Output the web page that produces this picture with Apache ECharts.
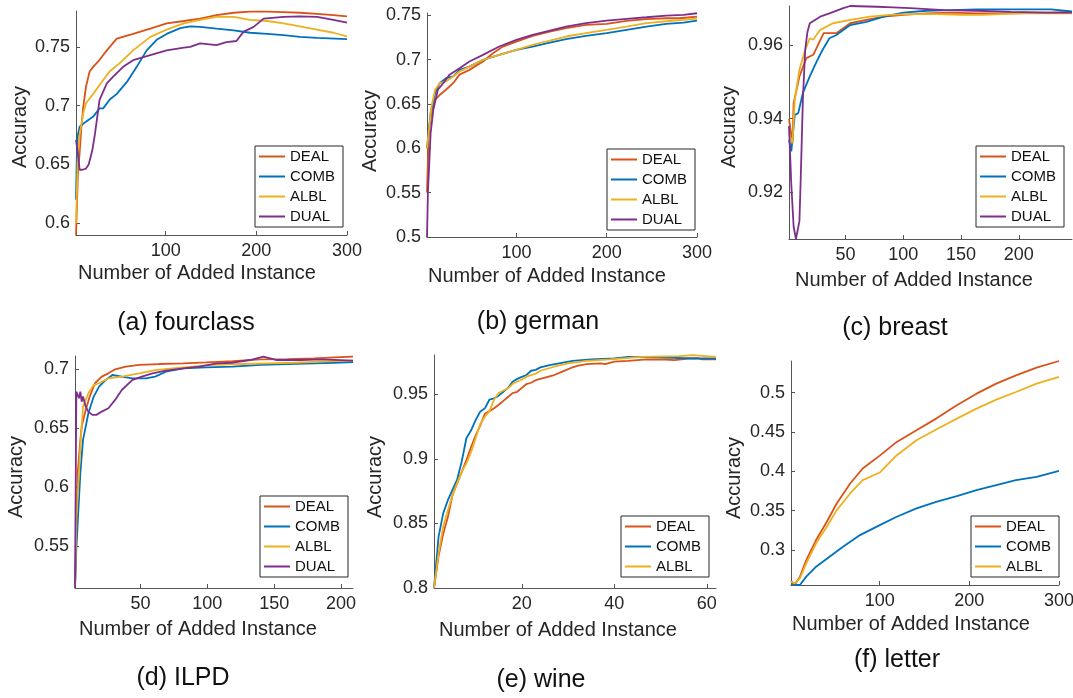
<!DOCTYPE html>
<html>
<head>
<meta charset="utf-8">
<script src="https://cdn.jsdelivr.net/npm/echarts@6/dist/echarts.min.js"></script>
<style>
  html, body { margin: 0; padding: 0; background: #fff; }
  #chart { width: 1073px; height: 698px; }
</style>
</head>
<body>
<div id="chart"></div>
<script>
// method names and colours (MATLAB default order)
const methods = ['DEAL', 'COMB', 'ALBL', 'DUAL'];
const colors = { DEAL: '#D95319', COMB: '#0072BD', ALBL: '#EDB120', DUAL: '#7E2F8E' };

// (a) fourclass
const fourclassDEAL = [[1,0.59],[3,0.64],[5,0.66],[7,0.682],[9,0.699],[12,0.716],[16,0.729],[20,0.733],[27,0.739],[35,0.747],[46,0.757],[64,0.761],[83,0.7655],[101,0.770],[120,0.772],[138,0.774],[156,0.777],[175,0.779],[193,0.780],[212,0.780],[230,0.7795],[248,0.779],[267,0.778],[285,0.777],[300,0.776]];
const fourclassCOMB = [[1,0.62],[2,0.66],[3,0.675],[5,0.682],[12,0.6864],[20,0.6907],[27,0.6977],[31,0.6977],[38,0.705],[46,0.710],[57,0.720],[68,0.733],[79,0.747],[90,0.756],[101,0.761],[116,0.766],[127,0.7675],[138,0.767],[156,0.7655],[175,0.764],[193,0.762],[212,0.761],[230,0.760],[248,0.7585],[267,0.7576],[300,0.7565]];
const fourclassALBL = [[1,0.6],[3,0.655],[5,0.675],[9,0.6935],[12,0.702],[20,0.710],[27,0.7175],[38,0.729],[49,0.736],[64,0.747],[83,0.7585],[101,0.7647],[120,0.770],[138,0.773],[156,0.7755],[175,0.7755],[193,0.773],[212,0.772],[230,0.770],[248,0.7675],[267,0.7647],[285,0.762],[300,0.759]];
const fourclassDUAL = [[1,0.671],[3,0.66],[5,0.6455],[8,0.6455],[12,0.6465],[15,0.650],[19,0.662],[22,0.6765],[27,0.705],[35,0.719],[42,0.7246],[53,0.733],[64,0.7387],[83,0.743],[101,0.747],[120,0.7494],[127,0.750],[138,0.753],[156,0.7514],[167,0.754],[178,0.755],[186,0.763],[197,0.767],[208,0.774],[230,0.7755],[248,0.776],[267,0.7755],[285,0.773],[300,0.7706]];
const fourclassXTicks = [100, 200, 300];
const fourclassYTicks = [0.6, 0.65, 0.7, 0.75];

// (b) german
const germanDEAL = [[1,0.55],[3,0.62],[6,0.64],[10,0.655],[15,0.66],[22,0.666],[30,0.6734],[37,0.683],[48,0.6884],[63,0.6978],[74,0.7072],[85,0.7147],[100,0.7203],[118,0.7267],[137,0.7316],[155,0.7354],[177,0.7391],[200,0.7402],[222,0.7436],[244,0.7455],[266,0.7466],[281,0.7466],[300,0.7485]];
const germanCOMB = [[1,0.6],[5,0.64],[10,0.662],[15,0.6734],[22,0.679],[30,0.681],[37,0.6884],[48,0.692],[63,0.6997],[81,0.7053],[100,0.711],[118,0.7147],[137,0.7192],[155,0.723],[177,0.7267],[200,0.7297],[222,0.7335],[244,0.7372],[266,0.7402],[285,0.7417],[300,0.744]];
const germanALBL = [[1,0.6],[6,0.6472],[10,0.666],[15,0.6734],[22,0.6753],[30,0.681],[37,0.6866],[48,0.692],[63,0.6997],[81,0.7053],[100,0.711],[118,0.7166],[137,0.7215],[155,0.726],[177,0.7297],[200,0.7335],[222,0.7372],[244,0.741],[266,0.7432],[285,0.7447],[300,0.7462]];
const germanDUAL = [[1,0.5],[2,0.55],[5,0.617],[8,0.6433],[13,0.666],[19,0.6734],[26,0.683],[37,0.6903],[48,0.6978],[63,0.7053],[81,0.7147],[100,0.7222],[118,0.7279],[137,0.7327],[155,0.7372],[177,0.741],[200,0.744],[222,0.7459],[244,0.7477],[266,0.7496],[285,0.7504],[300,0.7522]];
const germanXTicks = [100, 200, 300];
const germanYTicks = [0.5, 0.55, 0.6, 0.65, 0.7, 0.75];

// (c) breast
const breastDEAL = [[1,0.94],[4,0.9333],[5,0.9442],[10,0.9515],[16,0.9565],[22,0.9574],[31,0.9633],[42,0.9633],[54,0.966],[68,0.9669],[83,0.9678],[100,0.9683],[120,0.9687],[141,0.9689],[164,0.9687],[184,0.9687],[207,0.9689],[228,0.9689],[246,0.9691]];
const breastCOMB = [[1,0.9342],[3,0.9311],[6,0.941],[9,0.9415],[13,0.947],[19,0.9515],[25,0.9556],[30,0.9587],[36,0.9619],[42,0.9628],[54,0.9655],[68,0.9664],[83,0.9678],[100,0.9689],[120,0.9694],[141,0.9696],[164,0.9698],[184,0.9698],[207,0.9698],[228,0.9698],[246,0.9692]];
const breastALBL = [[1,0.936],[4,0.9333],[6,0.9451],[10,0.9533],[15,0.9587],[19,0.9619],[22,0.9615],[28,0.9642],[39,0.966],[54,0.9669],[71,0.9678],[88,0.9683],[106,0.9685],[129,0.9685],[149,0.9683],[170,0.9683],[184,0.9685],[207,0.9687],[228,0.9687],[246,0.9687]];
const breastDUAL = [[1,0.938],[3,0.922],[5,0.9106],[7,0.9072],[8,0.9072],[10,0.912],[11,0.922],[13,0.9451],[15,0.9587],[17,0.9637],[19,0.966],[28,0.9678],[36,0.9687],[48,0.9701],[54,0.9707],[77,0.9705],[91,0.9703],[106,0.9701],[135,0.9696],[164,0.9694],[193,0.9691],[222,0.9689],[246,0.9689]];
const breastXTicks = [50, 100, 150, 200];
const breastYTicks = [0.92, 0.94, 0.96];

// (d) ILPD
const ilpdDEAL = [[1,0.5147],[2,0.5556],[3,0.612],[5,0.640],[6,0.6515],[9,0.6656],[12,0.6769],[16,0.6882],[21,0.6938],[26,0.6966],[31,0.7],[39,0.7023],[49,0.7037],[64,0.7045],[82,0.7051],[99,0.7059],[119,0.707],[140,0.7085],[160,0.7087],[180,0.7093],[195,0.7102],[209,0.7107]];
const ilpdCOMB = [[1,0.5147],[2,0.548],[5,0.612],[7,0.6402],[11,0.6628],[15,0.6769],[19,0.6853],[24,0.691],[29,0.6952],[36,0.6938],[44,0.6924],[54,0.6924],[61,0.6938],[69,0.698],[82,0.7008],[99,0.7017],[119,0.7023],[140,0.7037],[160,0.7045],[180,0.7051],[195,0.7056],[209,0.7062]];
const ilpdALBL = [[1,0.5147],[2,0.572],[5,0.634],[7,0.6684],[11,0.6797],[15,0.6867],[19,0.6882],[26,0.6924],[36,0.6938],[49,0.6966],[61,0.6994],[74,0.7008],[89,0.7023],[104,0.7037],[125,0.7045],[145,0.7051],[165,0.7056],[185,0.7065],[209,0.7073]];
const ilpdDUAL = [[1,0.5147],[2,0.6811],[3,0.6825],[4,0.6755],[5,0.6811],[6,0.6726],[7,0.6769],[9,0.6684],[11,0.6642],[14,0.6614],[17,0.6614],[21,0.6642],[26,0.667],[31,0.6741],[36,0.6825],[44,0.691],[51,0.6938],[59,0.6966],[69,0.6989],[82,0.7008],[94,0.7023],[107,0.7051],[119,0.7056],[132,0.7079],[142,0.7107],[152,0.7079],[170,0.7079],[185,0.7085],[209,0.7073]];
const ilpdXTicks = [50, 100, 150, 200];
const ilpdYTicks = [0.55, 0.6, 0.65, 0.7];

// (e) wine
const wineDEAL = [[1,0.8],[2,0.825],[3,0.842],[4,0.855],[5,0.872],[6,0.881],[7,0.89],[8,0.899],[9,0.909],[10,0.918],[11,0.926],[12,0.935],[13,0.937],[14,0.9392],[15,0.942],[16,0.945],[17,0.948],[18,0.951],[19,0.952],[20,0.955],[21,0.958],[22,0.959],[23,0.961],[24,0.962],[25,0.963],[27,0.965],[29,0.968],[31,0.971],[32,0.972],[34,0.9735],[37,0.974],[38,0.9735],[40,0.9753],[43,0.976],[47,0.9771],[51,0.977],[53,0.9765],[56,0.9778],[58,0.978],[59,0.9772],[62,0.9771]];
const wineCOMB = [[1,0.8],[2,0.84],[3,0.858],[4,0.868],[5,0.876],[6,0.884],[7,0.898],[8,0.916],[9,0.922],[10,0.93],[11,0.9366],[12,0.9392],[13,0.946],[14,0.9469],[15,0.949],[16,0.952],[17,0.955],[18,0.9598],[19,0.962],[20,0.9635],[21,0.965],[22,0.9683],[23,0.969],[24,0.9709],[26,0.9727],[28,0.974],[31,0.976],[35,0.9771],[40,0.9778],[43,0.9791],[50,0.9786],[57,0.9778],[62,0.9778]];
const wineALBL = [[1,0.8],[2,0.827],[3,0.848],[4,0.86],[5,0.872],[6,0.8812],[7,0.89],[8,0.8966],[9,0.905],[10,0.916],[11,0.927],[12,0.9327],[13,0.937],[14,0.946],[15,0.951],[16,0.953],[17,0.9546],[18,0.958],[19,0.96],[20,0.9615],[21,0.9637],[23,0.966],[24,0.9683],[27,0.9714],[30,0.974],[34,0.976],[39,0.9771],[46,0.9791],[54,0.9796],[57,0.9804],[62,0.9791]];
const wineXTicks = [20, 40, 60];
const wineYTicks = [0.8, 0.85, 0.9, 0.95];

// (f) letter
const letterDEAL = [[1,0.2611],[5,0.2556],[11,0.2662],[18,0.2873],[29,0.3127],[41,0.3359],[52,0.3592],[67,0.3846],[81,0.4036],[100,0.4200],[119,0.4374],[141,0.4522],[163,0.467],[186,0.4839],[208,0.4987],[230,0.5114],[252,0.522],[275,0.5317],[300,0.5402]];
const letterCOMB = [[1,0.2575],[8,0.2556],[11,0.2556],[18,0.2662],[29,0.2789],[44,0.2915],[59,0.3042],[78,0.319],[100,0.3317],[119,0.3423],[141,0.3529],[163,0.3613],[186,0.3685],[208,0.3761],[230,0.3825],[252,0.3888],[275,0.393],[300,0.4006]];
const letterALBL = [[1,0.2598],[5,0.2577],[11,0.2641],[18,0.2831],[29,0.3085],[41,0.3296],[52,0.3507],[67,0.3719],[81,0.3888],[100,0.3985],[119,0.4205],[141,0.4395],[163,0.4531],[186,0.467],[208,0.4797],[230,0.4911],[252,0.5008],[275,0.5114],[300,0.5199]];
const letterXTicks = [100, 200, 300];
const letterYTicks = [0.3, 0.35, 0.4, 0.45, 0.5];

const FONT = '"Liberation Sans", Arial, Helvetica, sans-serif';
const INK = '#262626';

// layout of the six panels (pixels) and axis ranges
const panels = [
  { caption: '(a) fourclass', cap: [186, 323], grid: [76, 11, 271, 224], x: [1, 300], y: [0.59, 0.7805],
    xt: fourclassXTicks, yt: fourclassYTicks, legend: [255, 146], xl: [197, 273], yl: [20, 127],
    data: { DEAL: fourclassDEAL, COMB: fourclassCOMB, ALBL: fourclassALBL, DUAL: fourclassDUAL } },
  { caption: '(b) german', cap: [538, 322], grid: [427, 13, 270, 224], x: [1, 300], y: [0.5, 0.7525],
    xt: germanXTicks, yt: germanYTicks, legend: [607, 149], xl: [547, 276], yl: [370, 131],
    data: { DEAL: germanDEAL, COMB: germanCOMB, ALBL: germanALBL, DUAL: germanDUAL } },
  { caption: '(c) breast', cap: [895, 328], grid: [789, 6, 283, 233], x: [1, 246], y: [0.9072, 0.9707],
    xt: breastXTicks, yt: breastYTicks, legend: [976, 146], xl: [914, 280], yl: [729, 127],
    data: { DEAL: breastDEAL, COMB: breastCOMB, ALBL: breastALBL, DUAL: breastDUAL } },
  { caption: '(d) ILPD', cap: [183, 678], grid: [75, 356, 278, 232], x: [1, 209], y: [0.5147, 0.7113],
    xt: ilpdXTicks, yt: ilpdYTicks, legend: [260, 496], xl: [198, 629], yl: [16, 477],
    data: { DEAL: ilpdDEAL, COMB: ilpdCOMB, ALBL: ilpdALBL, DUAL: ilpdDUAL } },
  { caption: '(e) wine', cap: [541, 680], grid: [434, 355, 282, 233], x: [1, 62], y: [0.8, 0.9805],
    xt: wineXTicks, yt: wineYTicks, legend: [621, 516], xl: [558, 630], yl: [375, 477],
    data: { DEAL: wineDEAL, COMB: wineCOMB, ALBL: wineALBL } },
  { caption: '(f) letter', cap: [897, 660], grid: [791, 361, 268, 224], x: [1, 300], y: [0.2556, 0.5402],
    xt: letterXTicks, yt: letterYTicks, legend: [971, 516], xl: [911, 624], yl: [734, 478],
    data: { DEAL: letterDEAL, COMB: letterCOMB, ALBL: letterALBL } }
];

const grid = [], xAxis = [], yAxis = [], series = [], legend = [], graphic = [];

panels.forEach((p, i) => {
  grid.push({ left: p.grid[0], top: p.grid[1], width: p.grid[2], height: p.grid[3], outerBoundsMode: 'none' });

  const axisCommon = {
    type: 'value', gridIndex: i,
    axisLine: { show: true, lineStyle: { color: '#555', width: 1 } },
    axisTick: { show: true, inside: true, length: 4, lineStyle: { color: '#555' } },
    splitLine: { show: false },
    axisLabel: { color: INK, fontSize: 18, fontFamily: FONT }
  };
  xAxis.push(Object.assign({}, axisCommon, {
    min: p.x[0], max: p.x[1],
    axisTick: Object.assign({}, axisCommon.axisTick, { customValues: p.xt }),
    axisLabel: Object.assign({}, axisCommon.axisLabel, { customValues: p.xt, margin: 7 })
  }));
  yAxis.push(Object.assign({}, axisCommon, {
    min: p.y[0], max: p.y[1],
    axisTick: Object.assign({}, axisCommon.axisTick, { customValues: p.yt }),
    axisLabel: Object.assign({}, axisCommon.axisLabel, { customValues: p.yt, margin: 6 })
  }));

  const names = Object.keys(p.data);
  names.forEach(name => {
    series.push({
      name: name, type: 'line', xAxisIndex: i, yAxisIndex: i,
      data: p.data[name], symbol: 'none', showSymbol: false,
      lineStyle: { color: colors[name], width: 1.8 },
      itemStyle: { color: colors[name] },
      animation: false
    });
  });

  // legend: plain line samples in a thin box, like MATLAB
  legend.push({
    left: p.legend[0], top: p.legend[1], orient: 'vertical', align: 'left',
    data: names.map(n => ({ name: n, icon: 'rect' })),
    itemWidth: 26, itemHeight: 2, itemGap: 5,
    padding: [3, 8, 3, 4],
    borderColor: INK, borderWidth: 1, backgroundColor: '#fff',
    textStyle: { color: '#111', fontSize: 15, fontFamily: FONT, lineHeight: 15, height: 15 },
    selectedMode: false
  });

  graphic.push({
    type: 'text', x: p.xl[0], y: p.xl[1],
    style: { text: 'Number of Added Instance', fill: INK, font: '20px ' + FONT, align: 'center', verticalAlign: 'middle' }
  });
  graphic.push({
    type: 'text', x: p.yl[0], y: p.yl[1], rotation: Math.PI / 2,
    style: { text: 'Accuracy', fill: INK, font: '20px ' + FONT, align: 'center', verticalAlign: 'middle' }
  });
  graphic.push({
    type: 'text', x: p.cap[0], y: p.cap[1],
    style: { text: p.caption, fill: '#111', font: '25px ' + FONT, align: 'center', verticalAlign: 'middle' }
  });
});

const myChart = echarts.init(document.getElementById('chart'));
myChart.setOption({
  backgroundColor: '#fff',
  animation: false,
  grid: grid,
  xAxis: xAxis,
  yAxis: yAxis,
  legend: legend,
  series: series,
  graphic: graphic
});
</script>
</body>
</html>
